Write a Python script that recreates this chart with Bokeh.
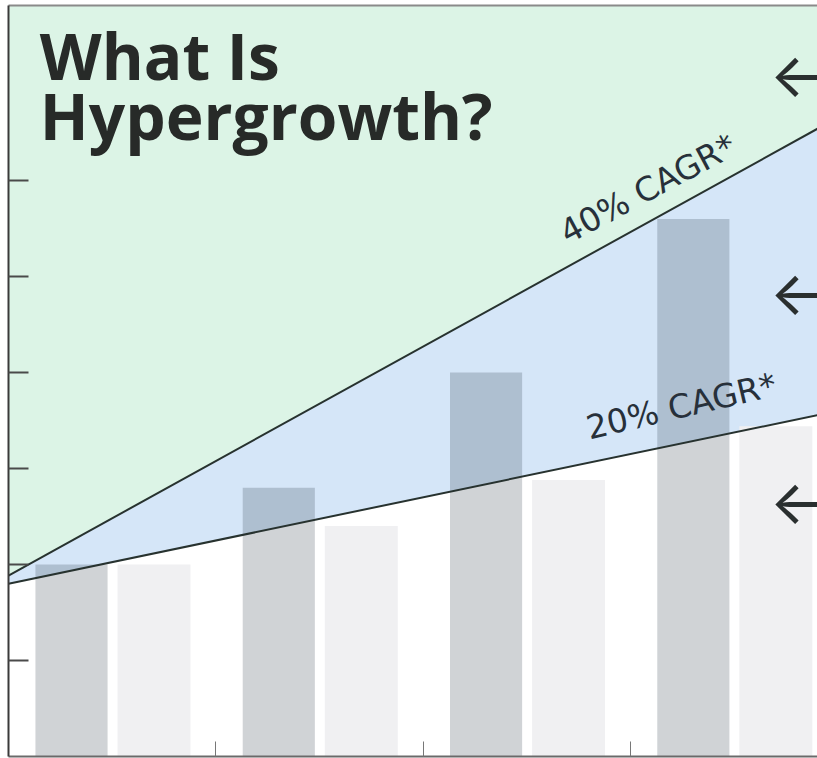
from bokeh.plotting import figure
from bokeh.models import Range1d, LinearAxis, FixedTicker, Label
from bokeh.embed import file_html
from bokeh.resources import INLINE
from bokeh.core.properties import value

# ---------------- data ----------------
groups = ["Year 1", "Year 2", "Year 3", "Year 4"]
hypergrowth_values = [2.0, 2.8, 4.0, 5.6]      # dark bars
normal_values = [2.0, 2.4, 2.88, 3.44]         # light bars
line_x = [0.0, 4.0]
cagr40_line = [1.885, 6.655]
cagr20_line = [1.80, 3.60]
y_ticks = [1, 2, 3, 4, 5, 6]
x_ticks = [1, 2, 3]
arrow_y = [7.10, 4.83, 2.66]
title_lines = ["What Is", "Hypergrowth?"]
cagr_labels = ["40% CAGR*", "20% CAGR*"]

X_END = 3.903
Y_END = 7.823

hyper_x = [i + 0.304 for i in range(len(groups))]
normal_x = [i + 0.702 for i in range(len(groups))]

p = figure(width=817, height=758, x_range=Range1d(0, X_END), y_range=Range1d(0, Y_END),
           output_backend="svg", toolbar_location=None,
           min_border_left=8, min_border_top=5, min_border_bottom=2, min_border_right=0,
           x_axis_type=None, y_axis_type=None)
p.background_fill_color = "white"
p.border_fill_color = "white"
p.outline_line_color = None

# zones
top_edge = [Y_END + 1, Y_END + 1]
p.varea(x=line_x, y1=cagr40_line, y2=top_edge, fill_color="#dcf4e6")
p.varea(x=line_x, y1=cagr20_line, y2=cagr40_line, fill_color="#d5e6f8")

# bars
p.vbar(x=hyper_x, top=hypergrowth_values, bottom=0, width=0.348,
       fill_color=(20, 35, 50), fill_alpha=0.2, line_color=None)
p.vbar(x=normal_x, top=normal_values, bottom=0, width=0.352,
       fill_color="#f0f0f2", line_color=None)

# CAGR lines
p.line(line_x, cagr40_line, line_color="#27322f", line_width=2)
p.line(line_x, cagr20_line, line_color="#27322f", line_width=2)

# CAGR labels
p.text(x=[2.672], y=[5.44], text=[cagr_labels[0]], angle=0.49,
       text_font=value("DejaVu Sans"), text_font_size="33px", text_color="#27303a",
       text_align="left", text_baseline="alphabetic")
p.text(x=[2.79], y=[3.42], text=[cagr_labels[1]], angle=0.23,
       text_font=value("DejaVu Sans"), text_font_size="33px", text_color="#27303a",
       text_align="left", text_baseline="alphabetic")

# arrows
p.text(x=[3.670] * 3, y=arrow_y, text=["\u2190"] * 3,
       text_font=value("Inter"), text_font_size="62px", text_color="#2a2f2f",
       text_align="left", text_baseline="middle")

# title
p.add_layout(Label(x=0.151, y=6.844, text=title_lines[0], text_font="Open Sans",
                   text_font_style="bold", text_font_size="64px", text_color="#272a28",
                   text_baseline="bottom"))
p.add_layout(Label(x=0.151, y=6.219, text=title_lines[1], text_font="Open Sans",
                   text_font_style="bold", text_font_size="64px", text_color="#272a28",
                   text_baseline="bottom"))

# axes
common = dict(minor_tick_line_color=None, major_label_text_font_size="1px",
              major_label_text_color=None, major_label_standoff=0, major_tick_out=0)
left = LinearAxis(ticker=FixedTicker(ticks=y_ticks), major_tick_in=20,
                  axis_line_color="#3a3a3a", axis_line_width=2,
                  major_tick_line_color="#4a4a4a", major_tick_line_width=2, **common)
p.add_layout(left, "left")
bottom = LinearAxis(ticker=FixedTicker(ticks=x_ticks), major_tick_in=15,
                    axis_line_color="#6a6a6a", axis_line_width=2,
                    major_tick_line_color="#777777", major_tick_line_width=1, **common)
p.add_layout(bottom, "below")
top = LinearAxis(ticker=FixedTicker(ticks=[]), major_tick_in=0,
                 axis_line_color="#8a8a8a", axis_line_width=2, **common)
p.add_layout(top, "above")

open("out.html", "w").write(file_html(p, INLINE))
